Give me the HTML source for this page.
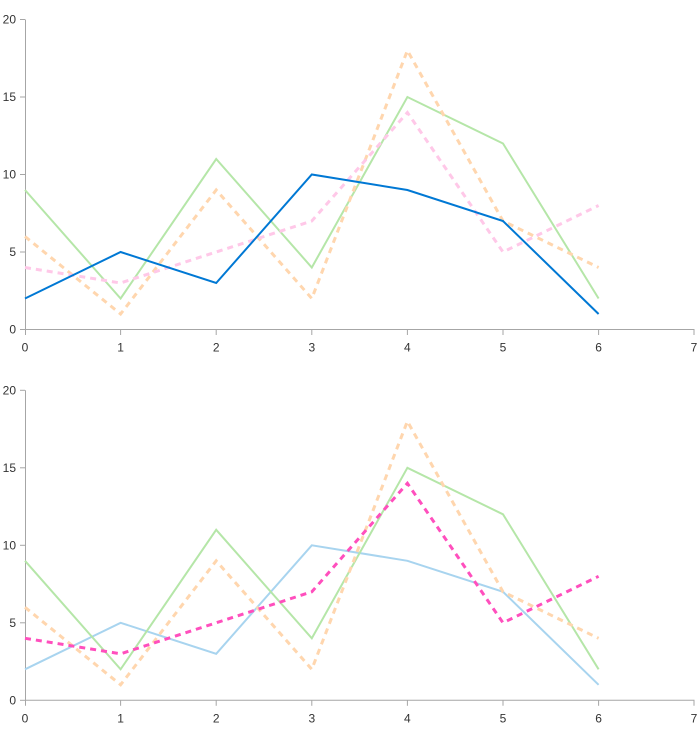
<!DOCTYPE html>
<html><head><meta charset="utf-8"><style>
html,body{margin:0;padding:0;background:#fff;}
svg{display:block;}
text{font-family:"Segoe UI","Liberation Sans",sans-serif;font-size:12px;fill:#333;}
</style></head><body>
<svg width="699" height="743" viewBox="0 0 699 743" xmlns="http://www.w3.org/2000/svg">
<defs>
<g id="axes">
  <g stroke="#a6a6a6" stroke-width="1" fill="none">
    <line x1="25.5" y1="19.5" x2="25.5" y2="329.5"/>
    <line x1="25" y1="329.5" x2="694.5" y2="329.5"/>
    <line x1="20" y1="19.5" x2="25" y2="19.5"/>
    <line x1="20" y1="97" x2="25" y2="97"/>
    <line x1="20" y1="174.5" x2="25" y2="174.5"/>
    <line x1="20" y1="252" x2="25" y2="252"/>
    <line x1="20" y1="329.5" x2="25" y2="329.5"/>
    <line x1="25.5" y1="329.5" x2="25.5" y2="335"/>
    <line x1="120.6" y1="329.5" x2="120.6" y2="335"/>
    <line x1="216.2" y1="329.5" x2="216.2" y2="335"/>
    <line x1="311.8" y1="329.5" x2="311.8" y2="335"/>
    <line x1="407.4" y1="329.5" x2="407.4" y2="335"/>
    <line x1="503" y1="329.5" x2="503" y2="335"/>
    <line x1="598.6" y1="329.5" x2="598.6" y2="335"/>
    <line x1="694" y1="329.5" x2="694" y2="335"/>
  </g>
  <g text-anchor="end">
    <text x="16" y="23.5">20</text>
    <text x="16" y="101">15</text>
    <text x="16" y="178.5">10</text>
    <text x="16" y="256">5</text>
    <text x="16" y="333.5">0</text>
  </g>
  <g text-anchor="middle">
    <text x="25" y="351.5">0</text>
    <text x="120.6" y="351.5">1</text>
    <text x="216.2" y="351.5">2</text>
    <text x="311.8" y="351.5">3</text>
    <text x="407.4" y="351.5">4</text>
    <text x="503" y="351.5">5</text>
    <text x="598.6" y="351.5">6</text>
    <text x="694" y="351.5">7</text>
  </g>
</g>
</defs>

<!-- Top chart -->
<use href="#axes"/>
<g fill="none" stroke-linejoin="miter">
  <polyline stroke="#b5e6a8" stroke-width="2" points="25,190 120.6,298.5 216.2,159 311.8,267.5 407.4,97 503,143.5 598.6,298.5"/>
  <polyline stroke="#ffd6ae" stroke-width="3" stroke-dasharray="6,5" points="25,236.5 120.6,314 216.2,190 311.8,298.5 407.4,50.5 503,221 598.6,267.5"/>
  <polyline stroke="#ffc8e8" stroke-width="3" stroke-dasharray="6,5" points="25,267.5 120.6,283 216.2,252 311.8,221 407.4,112.5 503,252 598.6,205.5"/>
  <polyline stroke="#0078d4" stroke-width="2" points="25,298.5 120.6,252 216.2,283 311.8,174.5 407.4,190 503,221 598.6,314"/>
</g>

<!-- Bottom chart -->
<g transform="translate(0,370.8)">
  <use href="#axes"/>
  <g fill="none">
    <polyline stroke="#a8d4ef" stroke-width="2" points="25,298.5 120.6,252 216.2,283 311.8,174.5 407.4,190 503,221 598.6,314"/>
    <polyline stroke="#b5e6a8" stroke-width="2" points="25,190 120.6,298.5 216.2,159 311.8,267.5 407.4,97 503,143.5 598.6,298.5"/>
    <polyline stroke="#ffd6ae" stroke-width="3" stroke-dasharray="6,5" points="25,236.5 120.6,314 216.2,190 311.8,298.5 407.4,50.5 503,221 598.6,267.5"/>
    <polyline stroke="#ff4fbd" stroke-width="3" stroke-dasharray="6,5" points="25,267.5 120.6,283 216.2,252 311.8,221 407.4,112.5 503,252 598.6,205.5"/>
  </g>
</g>
</svg>
</body></html>
